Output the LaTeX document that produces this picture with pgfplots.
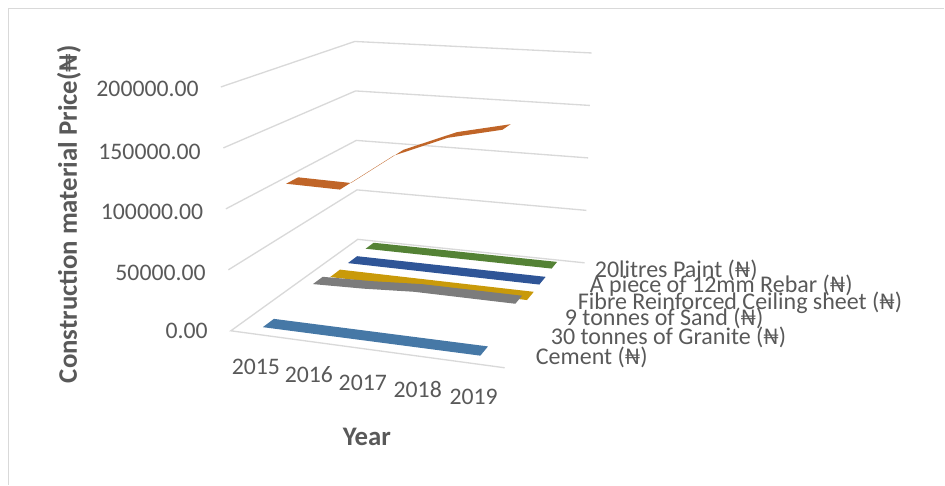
\documentclass[border=0pt]{standalone}
\usepackage{fontspec}
\setmainfont{Carlito}
\usepackage{pgfplots}
\pgfplotsset{compat=1.18}
\definecolor{gridc}{HTML}{D9D9D9}
\definecolor{txt}{HTML}{595959}
\definecolor{cCem}{HTML}{4678A6}
\definecolor{cGra}{HTML}{C06528}
\definecolor{cSan}{HTML}{7C7C7C}
\definecolor{cFib}{HTML}{C99A0A}
\definecolor{cReb}{HTML}{2F5597}
\definecolor{cPai}{HTML}{548235}
% depth position v, year and price are projected through the 8 corners of the chart box
\newcommand\U{((\thisrow{year}-2015)*0.2+0.097)}
\newcommand\V{(\thisrow{v})}
\newcommand\W{(\thisrow{price}/200000)}
\newcommand\Tri[8]{((1-\W)*((1-\V)*((1-\U)*#1+\U*#2)+\V*((1-\U)*#3+\U*#4))+\W*((1-\V)*((1-\U)*#5+\U*#6)+\V*((1-\U)*#7+\U*#8)))}
\pgfplotsset{proj/.style={/pgfplots/table/x expr={\Tri{231}{505}{358}{585}{221}{510}{355}{592}},/pgfplots/table/y expr={\Tri{331}{368}{239.5}{263}{87}{103}{41.5}{53}}}}
\begin{document}
\begin{tikzpicture}
\begin{axis}[
  scale only axis, width=708.75pt, height=363.75pt,
  xmin=0, xmax=945, ymin=0, ymax=485, y dir=reverse,
  hide axis, clip=false,
  every axis plot/.append style={no markers},
]
\path (axis cs:0,0) rectangle (axis cs:945,485);
% frame
\addplot[gridc,line width=0.9pt] coordinates {(8.5,485) (8.5,8.5) (945,8.5)};
% grid
\pgfplotsinvokeforeach{50000,100000,150000,200000}{
\addplot[gridc,line width=1pt] table[/pgfplots/proj,row sep=\\] {
year v price\\
2014.515 0 #1\\
2014.515 1 #1\\
2019.515 1 #1\\
};}
\addplot[gridc,line width=1pt] table[/pgfplots/proj,row sep=\\] {
year v price\\
2019.515 0 0\\
2014.515 0 0\\
2014.515 1 0\\
2019.515 1 0\\
};
% 20 litres paint
\addplot[fill=cPai,draw=none] table[/pgfplots/proj,row sep=\\] {
year v price\\
2015 0.885 3500\\ 2019 0.885 3500\\ 2019 0.95 3500\\ 2015 0.95 3500\\
};
% rebar
\addplot[fill=cReb,draw=none] table[/pgfplots/proj,row sep=\\] {
year v price\\
2015 0.74 2500\\ 2019 0.74 2500\\ 2019 0.815 2500\\ 2015 0.815 2500\\
};
% fibre ceiling sheet
\addplot[fill=cFib,draw=none] table[/pgfplots/proj,row sep=\\] {
year v price\\
2015 0.595 2000\\ 2019 0.595 2000\\ 2019 0.675 2000\\ 2015 0.675 2000\\
};
% sand
\addplot[fill=cSan,draw=none] table[/pgfplots/proj,row sep=\\] {
year v price\\
2015 0.455 7200\\ 2016 0.455 8500\\ 2017 0.455 11000\\ 2018 0.455 11000\\ 2019 0.455 11000\\
2019 0.535 11000\\ 2018 0.535 11000\\ 2017 0.535 11000\\ 2016 0.535 8500\\ 2015 0.535 7200\\
};
% granite
\addplot[fill=cGra,draw=none] table[/pgfplots/proj,row sep=\\] {
year v price\\
2015 0.265 108000\\ 2016 0.265 107000\\ 2017 0.265 139000\\ 2018 0.265 157000\\ 2019 0.265 166500\\
2019 0.36 166500\\ 2018 0.36 157000\\ 2017 0.36 139000\\ 2016 0.36 107000\\ 2015 0.36 108000\\
};
% cement
\addplot[fill=cCem,draw=none] table[/pgfplots/proj,row sep=\\] {
year v price\\
2015 0.045 2500\\ 2019 0.045 2800\\ 2019 0.135 2800\\ 2015 0.135 2500\\
};
\tikzset{lab/.style={inner sep=0pt,text=txt,font=\fontsize{17.8}{20}\selectfont},
leg/.style={lab,anchor=west,font=\fontsize{18}{20}\selectfont}}
\node[lab,anchor=east] at (axis cs:199,89) {200000.00};
\node[lab,anchor=east] at (axis cs:201,152) {150000.00};
\node[lab,anchor=east] at (axis cs:203.5,212) {100000.00};
\node[lab,anchor=east] at (axis cs:206,273) {50000.00};
\node[lab,anchor=east] at (axis cs:208,331) {0.00};
\node[lab] at (axis cs:256,367) {2015};
\node[lab] at (axis cs:309,375) {2016};
\node[lab] at (axis cs:363,383) {2017};
\node[lab] at (axis cs:418,390) {2018};
\node[lab] at (axis cs:474,397) {2019};
\node[leg] at (axis cs:595,271) {20litres Paint (₦)};
\node[leg] at (axis cs:590,286) {A piece of 12mm Rebar (₦)};
\node[leg] at (axis cs:578,303) {Fibre Reinforced Ceiling sheet (₦)};
\node[leg] at (axis cs:565,319) {9 tonnes of  Sand (₦)};
\node[leg] at (axis cs:551,338) {30 tonnes of Granite (₦)};
\node[leg] at (axis cs:536,358) {Cement (₦)};
\node[lab,rotate=90,font=\fontsize{20.1}{22}\selectfont\bfseries] at (axis cs:69,214.5) {Construction material Price(₦)};
\node[lab,font=\fontsize{20.1}{22}\selectfont\bfseries] at (axis cs:367,437) {Year};
\end{axis}
\end{tikzpicture}
\end{document}
